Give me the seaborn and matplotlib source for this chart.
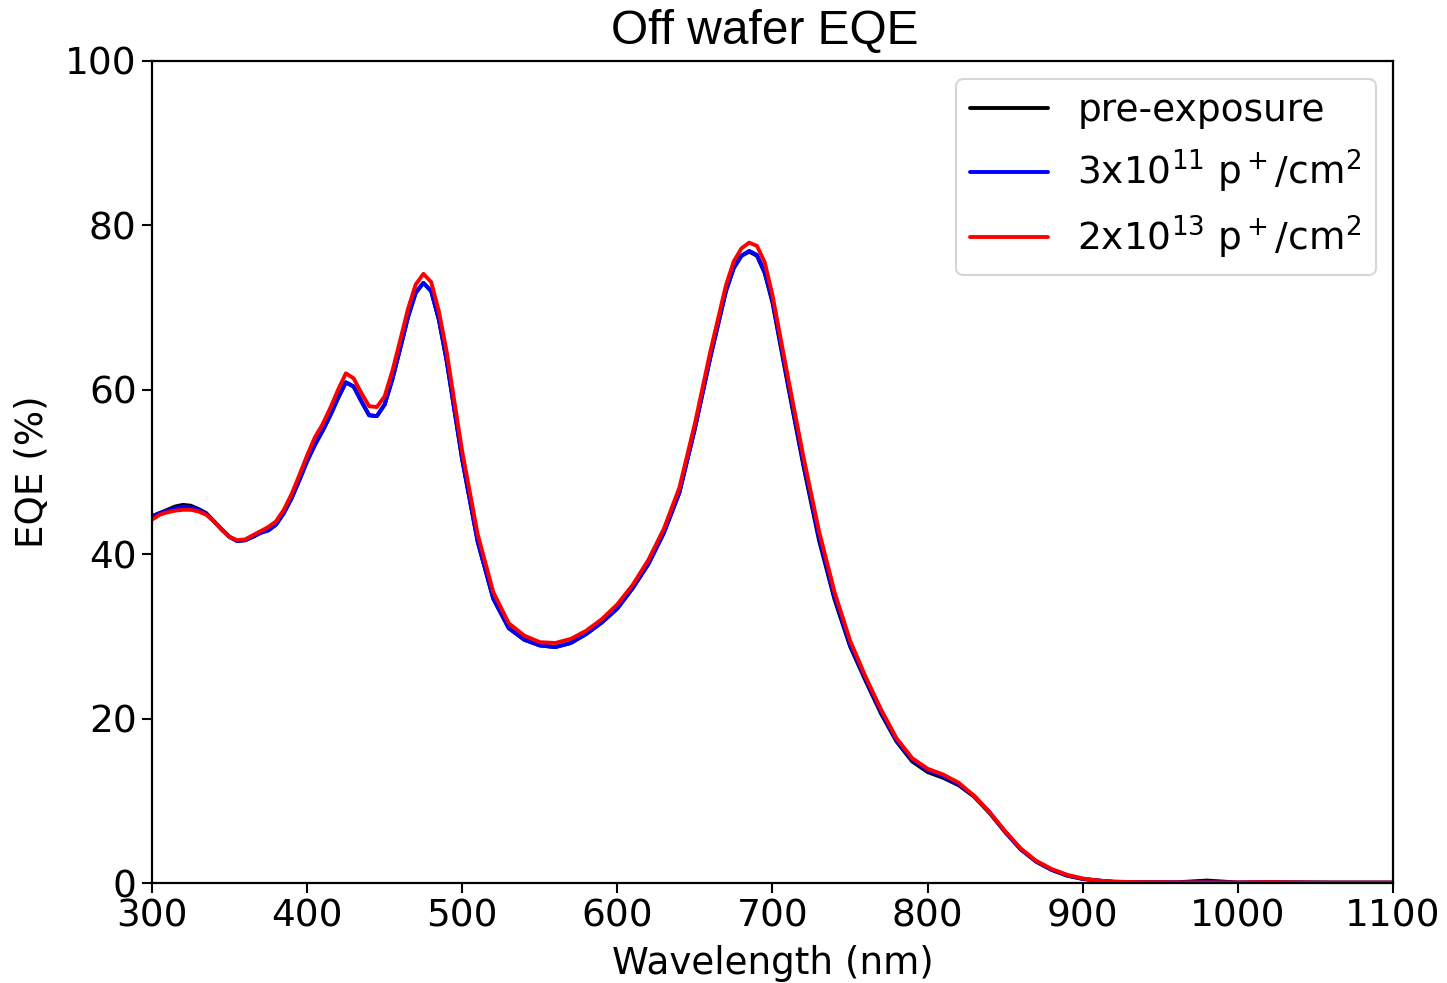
import matplotlib
matplotlib.use("Agg")
import matplotlib.pyplot as plt
import seaborn as sns
import pandas as pd
import numpy as np

sns.set_theme(style="white")
plt.rcParams['font.family'] = ['DejaVu Sans']
plt.rcParams['mathtext.fontset'] = 'dejavusans'
plt.rcParams['text.color'] = 'black'
plt.rcParams['axes.labelcolor'] = 'black'
plt.rcParams['xtick.color'] = 'black'
plt.rcParams['ytick.color'] = 'black'

wavelength = [300, 305, 310, 315, 320, 325, 330, 335, 340, 345, 350, 355, 360, 365, 370, 375,
              380, 385, 390, 395, 400, 405, 410, 415, 420, 425, 430, 435, 440, 445, 450, 455,
              460, 465, 470, 475, 480, 485, 490, 495, 500, 510, 520, 530, 540, 550, 560, 570,
              580, 590, 600, 610, 620, 630, 640, 650, 660, 670, 675, 680, 685, 690, 695, 700,
              710, 720, 730, 740, 750, 760, 770, 780, 790, 800, 810, 820, 830, 840, 850, 860,
              870, 880, 890, 900, 910, 920, 940, 960, 980, 1000, 1020, 1040, 1060, 1080, 1100]

pre_exposure = [44.6, 45.0, 45.4, 45.8, 46.0, 45.9, 45.5, 45.0, 44.0, 43.0, 42.1, 41.6, 41.7, 42.1, 42.6, 42.9,
                43.6, 45.0, 46.8, 49.0, 51.3, 53.3, 55.0, 56.9, 59.0, 60.9, 60.4, 58.6, 56.9, 56.8, 58.2, 61.3,
                65.0, 68.8, 71.8, 73.0, 72.0, 68.5, 63.5, 57.5, 51.5, 41.5, 34.6, 31.0, 29.6, 28.9, 28.7, 29.2,
                30.3, 31.7, 33.4, 35.9, 38.8, 42.6, 47.5, 55.3, 64.0, 72.0, 74.8, 76.3, 76.8, 76.3, 74.2, 70.6,
                60.5, 50.7, 41.7, 34.5, 28.8, 24.6, 20.6, 17.2, 14.8, 13.5, 12.8, 11.9, 10.5, 8.5, 6.2, 4.1,
                2.6, 1.6, 0.9, 0.5, 0.3, 0.15, 0.1, 0.08, 0.3, 0.06, 0.1, 0.08, 0.05, 0.05, 0.05]

dose_3e11 = [44.6, 45.0, 45.3, 45.6, 45.8, 45.7, 45.4, 44.9, 44.0, 43.0, 42.1, 41.6, 41.7, 42.1, 42.6, 42.9,
             43.6, 45.0, 46.8, 49.0, 51.3, 53.3, 55.0, 56.9, 59.0, 60.9, 60.4, 58.6, 56.9, 56.8, 58.2, 61.3,
             65.0, 68.8, 71.8, 73.0, 72.0, 68.5, 63.5, 57.5, 51.5, 41.5, 34.6, 31.0, 29.6, 28.9, 28.7, 29.2,
             30.3, 31.7, 33.4, 35.9, 38.8, 42.6, 47.5, 55.3, 64.0, 72.0, 74.8, 76.3, 76.9, 76.4, 74.3, 70.8,
             60.8, 51.0, 42.0, 34.8, 29.0, 24.8, 20.8, 17.3, 15.0, 13.7, 13.0, 12.0, 10.6, 8.6, 6.2, 4.1,
             2.6, 1.6, 0.9, 0.5, 0.3, 0.15, 0.1, 0.08, 0.1, 0.05, 0.08, 0.06, 0.05, 0.05, 0.05]

dose_2e13 = [44.2, 44.8, 45.1, 45.3, 45.4, 45.4, 45.2, 44.8, 44.0, 43.0, 42.1, 41.7, 41.8, 42.3, 42.8, 43.3,
             44.0, 45.4, 47.3, 49.6, 52.0, 54.2, 55.8, 57.8, 60.0, 62.0, 61.4, 59.6, 58.0, 57.9, 59.2, 62.3,
             66.0, 69.8, 72.8, 74.1, 73.1, 69.5, 64.6, 58.5, 52.5, 42.4, 35.4, 31.6, 30.1, 29.3, 29.2, 29.7,
             30.7, 32.1, 33.9, 36.3, 39.3, 43.1, 48.1, 55.9, 64.7, 72.7, 75.6, 77.2, 77.9, 77.5, 75.5, 71.5,
             61.5, 51.8, 42.8, 35.4, 29.5, 25.1, 21.1, 17.6, 15.2, 13.9, 13.2, 12.2, 10.6, 8.6, 6.3, 4.2,
             2.7, 1.7, 1.0, 0.55, 0.3, 0.15, 0.1, 0.08, 0.07, 0.06, 0.1, 0.06, 0.05, 0.05, 0.05]

labels = ['pre-exposure',
          r'3x10$^{11}$ p$^+$/cm$^2$',
          r'2x10$^{13}$ p$^+$/cm$^2$']
colors = ['#000000', '#0000ff', '#ff0000']

df = pd.concat([
    pd.DataFrame({'Wavelength': wavelength, 'EQE': vals, 'Series': lab})
    for vals, lab in zip([pre_exposure, dose_3e11, dose_2e13], labels)
], ignore_index=True)

fig = plt.figure(figsize=(14.47, 9.83), dpi=100)
ax = fig.add_axes([0.105, 0.1017, 0.8577, 0.8363])

sns.lineplot(data=df, x='Wavelength', y='EQE', hue='Series', hue_order=labels,
             palette=colors, linewidth=2.8, ax=ax, legend=True, sort=False)

ax.set_xlim(300, 1100)
ax.set_ylim(0, 100)
ax.set_xticks([300, 400, 500, 600, 700, 800, 900, 1000, 1100])
ax.set_yticks([0, 20, 40, 60, 80, 100])
ax.tick_params(axis='both', which='major', labelsize=27, length=7, width=1.5,
               direction='out', bottom=True, left=True, colors='black', pad=4)
for s in ax.spines.values():
    s.set_visible(True)
    s.set_color('black')
    s.set_linewidth(1.6)

ax.set_xlabel('Wavelength (nm)', fontsize=26.8, labelpad=8, color='black')
ax.set_ylabel('EQE (%)', fontsize=26.8, labelpad=10, color='black')
ax.set_title('Off wafer EQE', fontsize=34.5, family='Liberation Sans', pad=12,
             color='black', x=0.494)

leg = ax.legend(loc='upper right', fontsize=27, frameon=True, fancybox=True,
                borderpad=0.38, handlelength=2.08, handletextpad=0.77, labelspacing=0.5,
                borderaxespad=0, bbox_to_anchor=(0.986, 0.978))
leg.get_frame().set_edgecolor('#cccccc')
leg.get_frame().set_linewidth(1.5)
for t in leg.get_texts():
    t.set_color('black')
for line in leg.get_lines():
    line.set_linewidth(2.8)

fig.savefig('out.png', dpi=100, facecolor='white')
